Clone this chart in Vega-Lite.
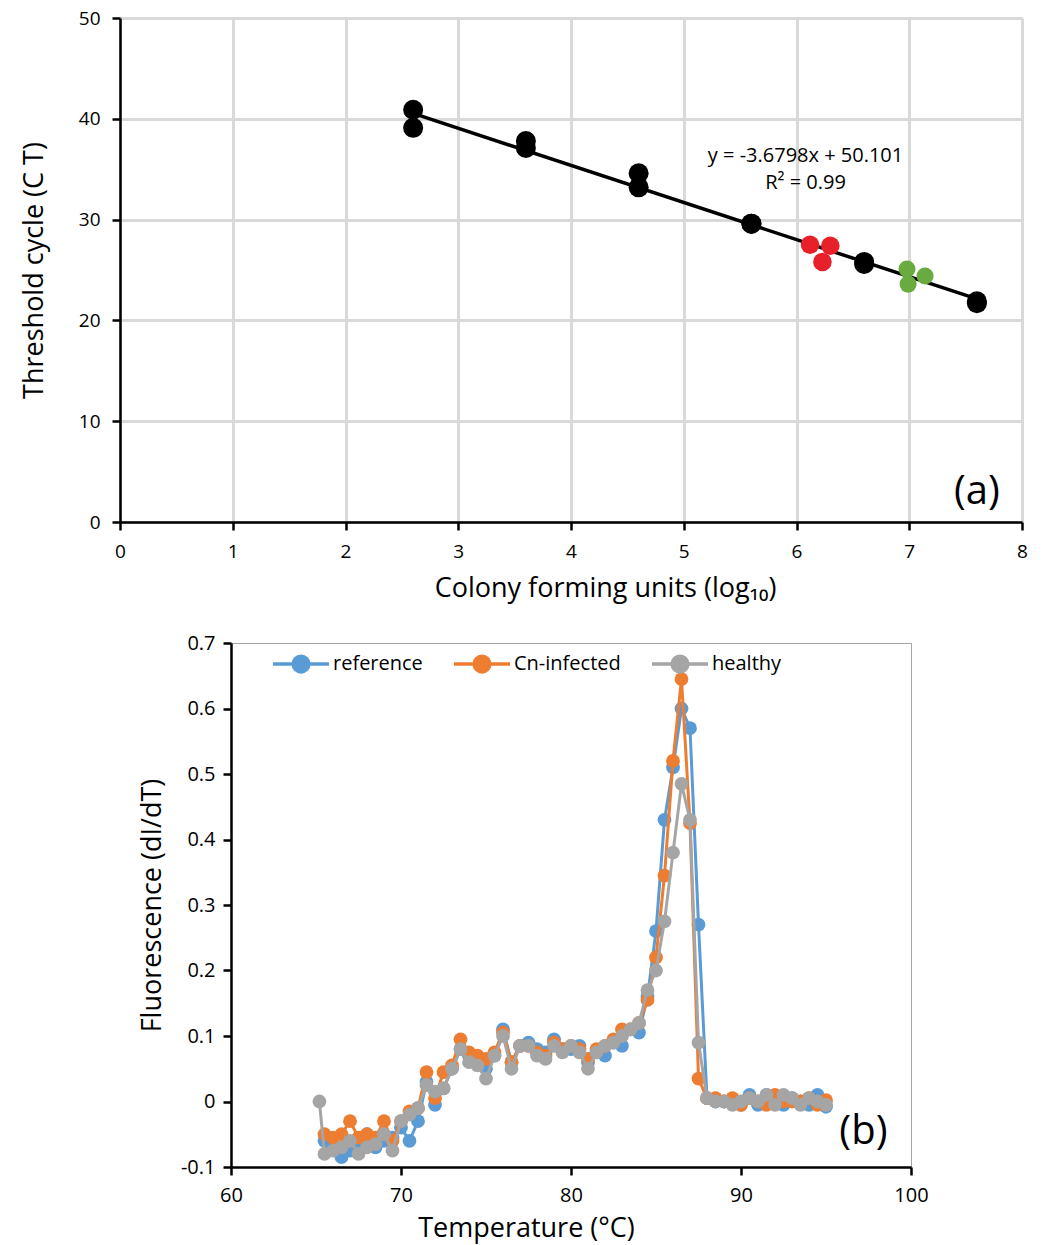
{
  "$schema": "https://vega.github.io/schema/vega-lite/v6.json",
  "background": "white",
  "padding": {"left": 20, "top": 9, "right": 5, "bottom": 5},
  "config": {
    "font": "Open Sans",
    "view": {"stroke": null},
    "axis": {
      "domainColor": "black", "domainWidth": 2.5, "tickColor": "black", "tickWidth": 2.5, "tickSize": 8,
      "labelColor": "black", "titleColor": "black", "labelFont": "Open Sans", "titleFont": "Open Sans",
      "titleFontWeight": "normal", "labelFlush": false
    }
  },
  "resolve": {"scale": {"color": "independent", "size": "independent"}, "legend": {"color": "independent", "size": "independent"}},
  "datasets": {
    "trend": [{"x": 2.6, "y": 40.53}, {"x": 7.6, "y": 22.13}],
    "cfu": [
      {"x": 2.6, "y": 40.9, "g": "standard"}, {"x": 2.6, "y": 39.1, "g": "standard"},
      {"x": 3.6, "y": 37.8, "g": "standard"}, {"x": 3.6, "y": 37.1, "g": "standard"},
      {"x": 4.6, "y": 34.6, "g": "standard"}, {"x": 4.6, "y": 33.2, "g": "standard"},
      {"x": 5.6, "y": 29.6, "g": "standard"}, {"x": 5.6, "y": 29.6, "g": "standard"},
      {"x": 6.6, "y": 25.8, "g": "standard"}, {"x": 6.6, "y": 25.6, "g": "standard"},
      {"x": 7.6, "y": 21.9, "g": "standard"}, {"x": 7.6, "y": 21.7, "g": "standard"},
      {"x": 6.12, "y": 27.5, "g": "red"}, {"x": 6.3, "y": 27.4, "g": "red"}, {"x": 6.23, "y": 25.8, "g": "red"},
      {"x": 6.98, "y": 25.1, "g": "green"}, {"x": 7.14, "y": 24.4, "g": "green"}, {"x": 6.99, "y": 23.6, "g": "green"}
    ],
    "eq": [{"x": 6.08, "y": 36.3, "label": "y = -3.6798x + 50.101"}, {"x": 6.08, "y": 33.6, "label": "R² = 0.99"}],
    "tagA": [{"x": 7.6, "y": 3.0, "label": "(a)"}],
    "tagB": [{"t": 97.2, "v": -0.046, "label": "(b)"}],
    "melt": [
      {"s": "reference", "t": 65.5, "v": -0.06}, {"s": "reference", "t": 66.0, "v": -0.07}, {"s": "reference", "t": 66.5, "v": -0.085}, {"s": "reference", "t": 67.0, "v": -0.075}, {"s": "reference", "t": 67.5, "v": -0.065},
      {"s": "reference", "t": 68.0, "v": -0.05}, {"s": "reference", "t": 68.5, "v": -0.07}, {"s": "reference", "t": 69.0, "v": -0.06}, {"s": "reference", "t": 69.5, "v": -0.055}, {"s": "reference", "t": 70.0, "v": -0.04},
      {"s": "reference", "t": 70.5, "v": -0.06}, {"s": "reference", "t": 71.0, "v": -0.03}, {"s": "reference", "t": 71.5, "v": 0.03}, {"s": "reference", "t": 72.0, "v": -0.005}, {"s": "reference", "t": 72.5, "v": 0.02},
      {"s": "reference", "t": 73.0, "v": 0.05}, {"s": "reference", "t": 73.5, "v": 0.08}, {"s": "reference", "t": 74.0, "v": 0.07}, {"s": "reference", "t": 74.5, "v": 0.065}, {"s": "reference", "t": 75.0, "v": 0.05},
      {"s": "reference", "t": 75.5, "v": 0.07}, {"s": "reference", "t": 76.0, "v": 0.11}, {"s": "reference", "t": 76.5, "v": 0.06}, {"s": "reference", "t": 77.0, "v": 0.085}, {"s": "reference", "t": 77.5, "v": 0.09},
      {"s": "reference", "t": 78.0, "v": 0.08}, {"s": "reference", "t": 78.5, "v": 0.075}, {"s": "reference", "t": 79.0, "v": 0.095}, {"s": "reference", "t": 79.5, "v": 0.08}, {"s": "reference", "t": 80.0, "v": 0.08},
      {"s": "reference", "t": 80.5, "v": 0.085}, {"s": "reference", "t": 81.0, "v": 0.06}, {"s": "reference", "t": 81.5, "v": 0.075}, {"s": "reference", "t": 82.0, "v": 0.07}, {"s": "reference", "t": 82.5, "v": 0.09},
      {"s": "reference", "t": 83.0, "v": 0.085}, {"s": "reference", "t": 83.5, "v": 0.11}, {"s": "reference", "t": 84.0, "v": 0.105}, {"s": "reference", "t": 84.5, "v": 0.16}, {"s": "reference", "t": 85.0, "v": 0.26},
      {"s": "reference", "t": 85.5, "v": 0.43}, {"s": "reference", "t": 86.0, "v": 0.51}, {"s": "reference", "t": 86.5, "v": 0.6}, {"s": "reference", "t": 87.0, "v": 0.57}, {"s": "reference", "t": 87.5, "v": 0.27},
      {"s": "reference", "t": 88.0, "v": 0.005}, {"s": "reference", "t": 88.5, "v": 0.0}, {"s": "reference", "t": 89.0, "v": 0.0}, {"s": "reference", "t": 89.5, "v": -0.003}, {"s": "reference", "t": 90.0, "v": -0.005},
      {"s": "reference", "t": 90.5, "v": 0.01}, {"s": "reference", "t": 91.0, "v": -0.005}, {"s": "reference", "t": 91.5, "v": 0.01}, {"s": "reference", "t": 92.0, "v": 0.0}, {"s": "reference", "t": 92.5, "v": -0.005},
      {"s": "reference", "t": 93.0, "v": 0.005}, {"s": "reference", "t": 93.5, "v": 0.0}, {"s": "reference", "t": 94.0, "v": -0.005}, {"s": "reference", "t": 94.5, "v": 0.01}, {"s": "reference", "t": 95.0, "v": -0.008},

      {"s": "Cn-infected", "t": 65.5, "v": -0.05}, {"s": "Cn-infected", "t": 66.0, "v": -0.055}, {"s": "Cn-infected", "t": 66.5, "v": -0.05}, {"s": "Cn-infected", "t": 67.0, "v": -0.03}, {"s": "Cn-infected", "t": 67.5, "v": -0.055},
      {"s": "Cn-infected", "t": 68.0, "v": -0.05}, {"s": "Cn-infected", "t": 68.5, "v": -0.055}, {"s": "Cn-infected", "t": 69.0, "v": -0.03}, {"s": "Cn-infected", "t": 69.5, "v": -0.06}, {"s": "Cn-infected", "t": 70.0, "v": -0.03},
      {"s": "Cn-infected", "t": 70.5, "v": -0.015}, {"s": "Cn-infected", "t": 71.0, "v": -0.01}, {"s": "Cn-infected", "t": 71.5, "v": 0.045}, {"s": "Cn-infected", "t": 72.0, "v": 0.005}, {"s": "Cn-infected", "t": 72.5, "v": 0.045},
      {"s": "Cn-infected", "t": 73.0, "v": 0.055}, {"s": "Cn-infected", "t": 73.5, "v": 0.095}, {"s": "Cn-infected", "t": 74.0, "v": 0.075}, {"s": "Cn-infected", "t": 74.5, "v": 0.07}, {"s": "Cn-infected", "t": 75.0, "v": 0.065},
      {"s": "Cn-infected", "t": 75.5, "v": 0.075}, {"s": "Cn-infected", "t": 76.0, "v": 0.105}, {"s": "Cn-infected", "t": 76.5, "v": 0.06}, {"s": "Cn-infected", "t": 77.0, "v": 0.085}, {"s": "Cn-infected", "t": 77.5, "v": 0.085},
      {"s": "Cn-infected", "t": 78.0, "v": 0.075}, {"s": "Cn-infected", "t": 78.5, "v": 0.07}, {"s": "Cn-infected", "t": 79.0, "v": 0.09}, {"s": "Cn-infected", "t": 79.5, "v": 0.08}, {"s": "Cn-infected", "t": 80.0, "v": 0.085},
      {"s": "Cn-infected", "t": 80.5, "v": 0.08}, {"s": "Cn-infected", "t": 81.0, "v": 0.065}, {"s": "Cn-infected", "t": 81.5, "v": 0.08}, {"s": "Cn-infected", "t": 82.0, "v": 0.085}, {"s": "Cn-infected", "t": 82.5, "v": 0.095},
      {"s": "Cn-infected", "t": 83.0, "v": 0.11}, {"s": "Cn-infected", "t": 83.5, "v": 0.11}, {"s": "Cn-infected", "t": 84.0, "v": 0.12}, {"s": "Cn-infected", "t": 84.5, "v": 0.155}, {"s": "Cn-infected", "t": 85.0, "v": 0.22},
      {"s": "Cn-infected", "t": 85.5, "v": 0.345}, {"s": "Cn-infected", "t": 86.0, "v": 0.52}, {"s": "Cn-infected", "t": 86.5, "v": 0.645}, {"s": "Cn-infected", "t": 87.0, "v": 0.425}, {"s": "Cn-infected", "t": 87.5, "v": 0.035},
      {"s": "Cn-infected", "t": 88.0, "v": 0.005}, {"s": "Cn-infected", "t": 88.5, "v": 0.005}, {"s": "Cn-infected", "t": 89.0, "v": 0.0}, {"s": "Cn-infected", "t": 89.5, "v": 0.005}, {"s": "Cn-infected", "t": 90.0, "v": -0.005},
      {"s": "Cn-infected", "t": 90.5, "v": 0.005}, {"s": "Cn-infected", "t": 91.0, "v": 0.0}, {"s": "Cn-infected", "t": 91.5, "v": -0.005}, {"s": "Cn-infected", "t": 92.0, "v": 0.01}, {"s": "Cn-infected", "t": 92.5, "v": 0.0},
      {"s": "Cn-infected", "t": 93.0, "v": 0.0}, {"s": "Cn-infected", "t": 93.5, "v": 0.0}, {"s": "Cn-infected", "t": 94.0, "v": 0.005}, {"s": "Cn-infected", "t": 94.5, "v": -0.005}, {"s": "Cn-infected", "t": 95.0, "v": 0.002},

      {"s": "healthy", "t": 65.2, "v": 0.0},
      {"s": "healthy", "t": 65.5, "v": -0.08}, {"s": "healthy", "t": 66.0, "v": -0.075}, {"s": "healthy", "t": 66.5, "v": -0.07}, {"s": "healthy", "t": 67.0, "v": -0.06}, {"s": "healthy", "t": 67.5, "v": -0.08},
      {"s": "healthy", "t": 68.0, "v": -0.07}, {"s": "healthy", "t": 68.5, "v": -0.065}, {"s": "healthy", "t": 69.0, "v": -0.05}, {"s": "healthy", "t": 69.5, "v": -0.075}, {"s": "healthy", "t": 70.0, "v": -0.03},
      {"s": "healthy", "t": 70.5, "v": -0.02}, {"s": "healthy", "t": 71.0, "v": -0.01}, {"s": "healthy", "t": 71.5, "v": 0.025}, {"s": "healthy", "t": 72.0, "v": 0.015}, {"s": "healthy", "t": 72.5, "v": 0.02},
      {"s": "healthy", "t": 73.0, "v": 0.05}, {"s": "healthy", "t": 73.5, "v": 0.08}, {"s": "healthy", "t": 74.0, "v": 0.06}, {"s": "healthy", "t": 74.5, "v": 0.055}, {"s": "healthy", "t": 75.0, "v": 0.035},
      {"s": "healthy", "t": 75.5, "v": 0.07}, {"s": "healthy", "t": 76.0, "v": 0.1}, {"s": "healthy", "t": 76.5, "v": 0.05}, {"s": "healthy", "t": 77.0, "v": 0.085}, {"s": "healthy", "t": 77.5, "v": 0.085},
      {"s": "healthy", "t": 78.0, "v": 0.07}, {"s": "healthy", "t": 78.5, "v": 0.065}, {"s": "healthy", "t": 79.0, "v": 0.085}, {"s": "healthy", "t": 79.5, "v": 0.075}, {"s": "healthy", "t": 80.0, "v": 0.085},
      {"s": "healthy", "t": 80.5, "v": 0.075}, {"s": "healthy", "t": 81.0, "v": 0.05}, {"s": "healthy", "t": 81.5, "v": 0.075}, {"s": "healthy", "t": 82.0, "v": 0.085}, {"s": "healthy", "t": 82.5, "v": 0.09},
      {"s": "healthy", "t": 83.0, "v": 0.1}, {"s": "healthy", "t": 83.5, "v": 0.11}, {"s": "healthy", "t": 84.0, "v": 0.12}, {"s": "healthy", "t": 84.5, "v": 0.17}, {"s": "healthy", "t": 85.0, "v": 0.2},
      {"s": "healthy", "t": 85.5, "v": 0.275}, {"s": "healthy", "t": 86.0, "v": 0.38}, {"s": "healthy", "t": 86.5, "v": 0.485}, {"s": "healthy", "t": 87.0, "v": 0.43}, {"s": "healthy", "t": 87.5, "v": 0.09},
      {"s": "healthy", "t": 88.0, "v": 0.005}, {"s": "healthy", "t": 88.5, "v": 0.0}, {"s": "healthy", "t": 89.0, "v": 0.0}, {"s": "healthy", "t": 89.5, "v": -0.005}, {"s": "healthy", "t": 90.0, "v": 0.0},
      {"s": "healthy", "t": 90.5, "v": 0.005}, {"s": "healthy", "t": 91.0, "v": 0.0}, {"s": "healthy", "t": 91.5, "v": 0.01}, {"s": "healthy", "t": 92.0, "v": -0.005}, {"s": "healthy", "t": 92.5, "v": 0.01},
      {"s": "healthy", "t": 93.0, "v": 0.005}, {"s": "healthy", "t": 93.5, "v": -0.005}, {"s": "healthy", "t": 94.0, "v": 0.005}, {"s": "healthy", "t": 94.5, "v": 0.0}, {"s": "healthy", "t": 95.0, "v": -0.005}
    ]
  },
  "vconcat": [
    {
      "width": 902,
      "height": 504,
      "encoding": {
        "x": {
          "field": "x", "type": "quantitative",
          "scale": {"domain": [0, 8], "nice": false, "zero": false},
          "axis": {
            "values": [0, 1, 2, 3, 4, 5, 6, 7, 8], "grid": true, "gridColor": "#d9d9d9", "gridWidth": 3,
            "labelFontSize": 19, "labelPadding": 12, "title": "Colony forming units (log₁₀)",
            "titleFontSize": 27, "titlePadding": 14, "titleX": 485, "titleAlign": "center"
          }
        },
        "y": {
          "field": "y", "type": "quantitative",
          "scale": {"domain": [0, 50], "nice": false, "zero": false},
          "axis": {
            "values": [0, 10, 20, 30, 40, 50], "grid": true, "gridColor": "#d9d9d9", "gridWidth": 3,
            "labelFontSize": 19, "labelPadding": 12, "title": "Threshold cycle (C T)",
            "titleFontSize": 27, "titlePadding": 30
          }
        }
      },
      "layer": [
        {"data": {"name": "trend"}, "mark": {"type": "line", "color": "black", "strokeWidth": 3.5}},
        {
          "data": {"name": "cfu"},
          "mark": {"type": "circle", "opacity": 1},
          "encoding": {
            "color": {"field": "g", "type": "nominal", "scale": {"domain": ["standard", "red", "green"], "range": ["#000000", "#e8202a", "#6aab3f"]}, "legend": null},
            "size": {"field": "g", "type": "ordinal", "scale": {"domain": ["standard", "red", "green"], "range": [400, 290, 300]}, "legend": null}
          }
        },
        {
          "data": {"name": "eq"},
          "mark": {"type": "text", "fontSize": 20, "align": "center", "baseline": "middle", "color": "black"},
          "encoding": {"text": {"field": "label"}}
        },
        {
          "data": {"name": "tagA"},
          "mark": {"type": "text", "fontSize": 40, "align": "center", "baseline": "middle", "color": "black"},
          "encoding": {"text": {"field": "label"}}
        }
      ]
    },
    {
      "width": 680,
      "height": 524,
      "view": {"stroke": "#a6a6a6", "strokeWidth": 1},
      "encoding": {
        "x": {
          "field": "t", "type": "quantitative",
          "scale": {"domain": [60, 100], "nice": false, "zero": false},
          "axis": {
            "values": [60, 70, 80, 90, 100], "grid": false, "labelFontSize": 20, "labelPadding": 10,
            "title": "Temperature  (°C)", "titleFontSize": 27, "titlePadding": 10, "titleX": 295, "titleAlign": "center"
          }
        },
        "y": {
          "field": "v", "type": "quantitative",
          "scale": {"domain": [-0.1, 0.7], "nice": false, "zero": false},
          "axis": {
            "values": [-0.1, 0, 0.1, 0.2, 0.3, 0.4, 0.5, 0.6, 0.7], "grid": false, "labelFontSize": 20, "labelPadding": 8,
            "labelExpr": "datum.value == 0 ? '0' : replace(format(datum.value, '.1f'), '\u2212', '-')",
            "title": "Fluorescence (dI/dT)", "titleFontSize": 27, "titlePadding": 14
          }
        }
      },
      "layer": [
        {
          "data": {"name": "melt"},
          "transform": [{"filter": "datum.s === 'reference'"}],
          "mark": {"type": "line", "strokeWidth": 3, "point": {"filled": true, "size": 190, "opacity": 1}},
          "encoding": {
            "color": {
              "field": "s", "type": "nominal",
              "scale": {"domain": ["reference", "Cn-infected", "healthy"], "range": ["#5b9bd5", "#ed7d31", "#a5a5a5"]},
              "legend": {
                "title": null, "orient": "none", "direction": "horizontal", "legendX": 40, "legendY": -9,
                "labelFontSize": 20, "labelColor": "black", "labelOffset": 2, "columnPadding": 24,
                "symbolType": "M-1,0L1,0M-0.28,0A0.28,0.28,0,1,0,0.28,0A0.28,0.28,0,1,0,-0.28,0",
                "symbolSize": 3136, "symbolStrokeWidth": 3.5, "symbolOpacity": 1,
                "encode": {
                  "symbols": {
                    "update": {
                      "fill": {"signal": "datum.value === 'reference' ? '#5b9bd5' : datum.value === 'Cn-infected' ? '#ed7d31' : '#a5a5a5'"},
                      "stroke": {"signal": "datum.value === 'reference' ? '#5b9bd5' : datum.value === 'Cn-infected' ? '#ed7d31' : '#a5a5a5'"}
                    }
                  }
                }
              }
            }
          }
        },
        {
          "data": {"name": "melt"},
          "transform": [{"filter": "datum.s === 'Cn-infected'"}],
          "mark": {"type": "line", "strokeWidth": 3, "point": {"filled": true, "size": 190, "opacity": 1}},
          "encoding": {
            "color": {"field": "s", "type": "nominal", "scale": {"domain": ["reference", "Cn-infected", "healthy"], "range": ["#5b9bd5", "#ed7d31", "#a5a5a5"]}}
          }
        },
        {
          "data": {"name": "melt"},
          "transform": [{"filter": "datum.s === 'healthy'"}],
          "mark": {"type": "line", "strokeWidth": 3, "point": {"filled": true, "size": 190, "opacity": 1}},
          "encoding": {
            "color": {"field": "s", "type": "nominal", "scale": {"domain": ["reference", "Cn-infected", "healthy"], "range": ["#5b9bd5", "#ed7d31", "#a5a5a5"]}}
          }
        },
        {
          "data": {"name": "tagB"},
          "mark": {"type": "text", "fontSize": 40, "align": "center", "baseline": "middle", "color": "black"},
          "encoding": {"text": {"field": "label"}}
        }
      ]
    }
  ],
  "spacing": 121,
  "bounds": "flush",
  "center": true
}
